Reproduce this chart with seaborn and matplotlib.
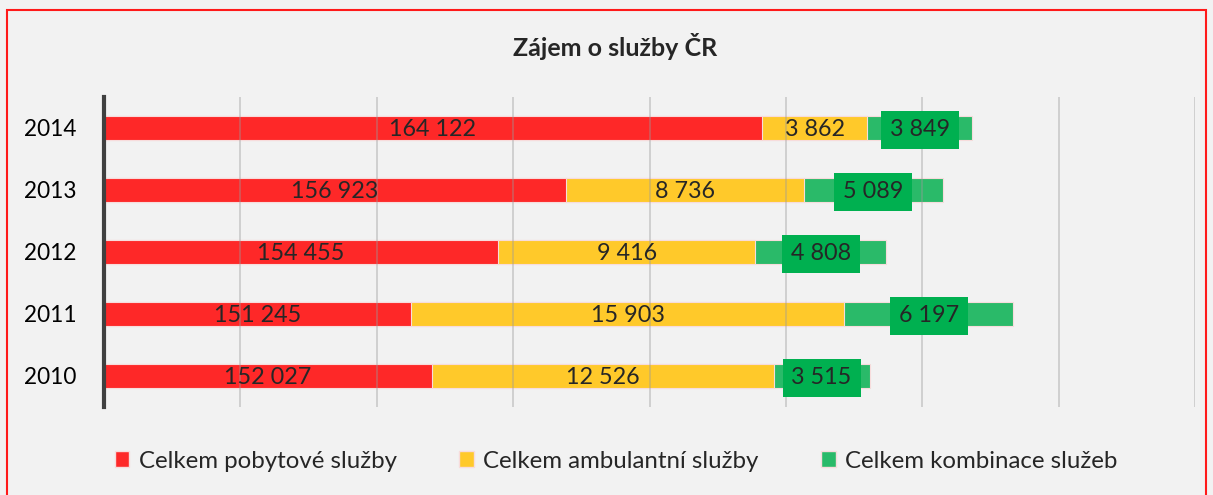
import pandas as pd
import matplotlib.pyplot as plt
import seaborn as sns
from matplotlib.patches import Patch, Rectangle

# data
years = ["2014", "2013", "2012", "2011", "2010"]
pobytove = [164122, 156923, 154455, 151245, 152027]
ambulantni = [3862, 8736, 9416, 15903, 12526]
kombinace = [3849, 5089, 4808, 6197, 3515]

labels = ["Celkem pobytové služby", "Celkem ambulantní služby", "Celkem kombinace služeb"]
barvy = ["#FE2828", "#FFC92A", "#2ABA69"]
x_min, x_max = 140000, 180000

df = pd.DataFrame({"rok": years, "pob": pobytove, "amb": ambulantni, "komb": kombinace})
df["s1"] = df["pob"]
df["s2"] = df["pob"] + df["amb"]
df["s3"] = df["s2"] + df["komb"]

sns.set_style("white")
plt.rcParams["font.family"] = ["Lato", "DejaVu Sans"]

fig = plt.figure(figsize=(12.13, 4.95), dpi=100, facecolor="#F2F2F2")
ax = fig.add_axes([104 / 1213, 1 - 407 / 495, 1091 / 1213, 310 / 495])
ax.set_facecolor("#F2F2F2")

# stacked bars: draw cumulative sums from the back
for col, c in zip(["s3", "s2", "s1"], barvy[::-1]):
    sns.barplot(data=df, x=col, y="rok", order=years, orient="h", color=c, saturation=1,
                width=0.39, edgecolor="#F7DCDC", linewidth=0.8, ax=ax, zorder=2)

ax.set_xlim(x_min, x_max)
ax.set_ylim(4.5, -0.5)
ax.set_xticks(range(x_min, x_max + 1, 5000))
ax.set_xticklabels([])
ax.grid(axis="x", color="#9A9A9A", alpha=0.45, linewidth=1.2, zorder=3)
ax.set_axisbelow(False)
ax.set_xlabel("")
ax.set_ylabel("")
for s in ["top", "right", "bottom"]:
    ax.spines[s].set_visible(False)
ax.spines["left"].set_color("#404040")
ax.spines["left"].set_linewidth(3)
ax.spines["left"].set_zorder(5)
ax.tick_params(axis="y", length=0, pad=20, labelsize=16.3, labelcolor="black")
ax.tick_params(axis="x", length=0)


def fmt(v):
    return f"{v:,}".replace(",", " ")


fs = 16.8
for i, r in df.iterrows():
    ax.text((x_min + r["s1"]) / 2, i, fmt(r["pob"]), ha="center", va="center_baseline",
            fontsize=fs, zorder=6)
    ax.text((r["s1"] + r["s2"]) / 2, i, fmt(r["amb"]), ha="center", va="center_baseline",
            fontsize=fs, zorder=6)
    ax.text((r["s2"] + r["s3"]) / 2, i, fmt(r["komb"]), ha="center", va="center_baseline",
            fontsize=fs, zorder=6,
            bbox=dict(boxstyle="square,pad=0.38", fc="#00B050", ec="none"))

fig.text(0.507, 1 - 47 / 495, "Zájem o služby ČR", ha="center", va="center",
         fontsize=18, fontweight="bold")

handles = [Patch(facecolor=c, edgecolor="#F7DCDC", label=l) for c, l in zip(barvy, labels)]
fig.legend(handles=handles, loc="center", bbox_to_anchor=(0.508, 1 - 461 / 495), ncol=3,
           frameon=False, fontsize=17.3, handlelength=0.6, handleheight=0.6,
           handletextpad=0.4, columnspacing=2.6)

fig.patches.append(Rectangle((7 / 1213, -0.1), 1199 / 1213, 1 - 10 / 495 + 0.1,
                             transform=fig.transFigure, fill=False, ec="#FF1A1A", lw=1.5))

fig.savefig("out.png", dpi=100, facecolor=fig.get_facecolor())
